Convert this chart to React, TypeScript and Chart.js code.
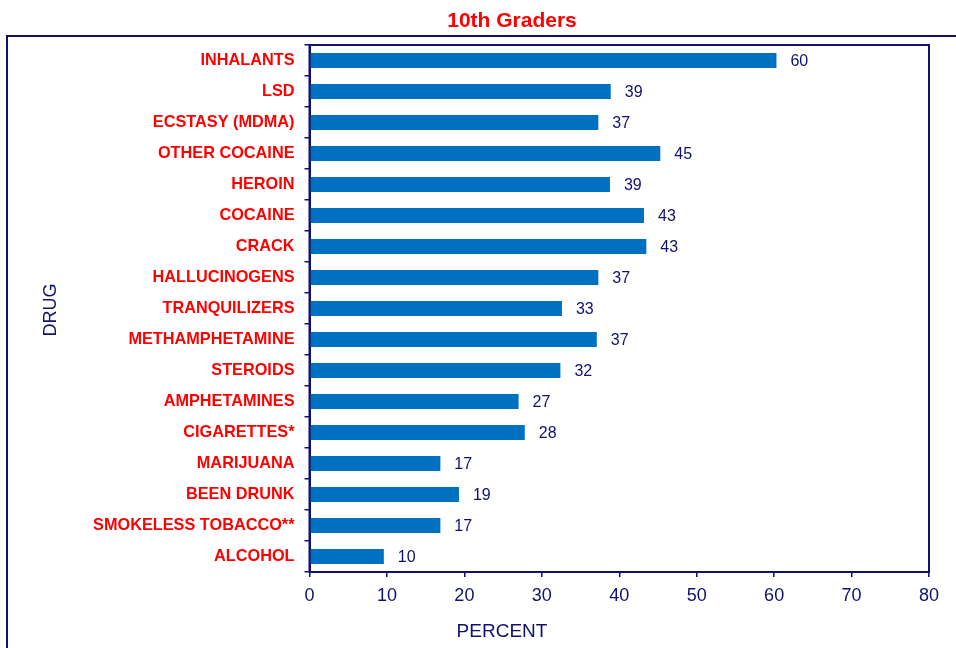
import React, { useEffect, useRef } from "react";
import { Chart, registerables } from "chart.js";

Chart.register(...registerables);

const categories = [
  "INHALANTS",
  "LSD",
  "ECSTASY (MDMA)",
  "OTHER COCAINE",
  "HEROIN",
  "COCAINE",
  "CRACK",
  "HALLUCINOGENS",
  "TRANQUILIZERS",
  "METHAMPHETAMINE",
  "STEROIDS",
  "AMPHETAMINES",
  "CIGARETTES*",
  "MARIJUANA",
  "BEEN DRUNK",
  "SMOKELESS TOBACCO**",
  "ALCOHOL",
];
const percentValues = [60.3, 38.9, 37.3, 45.3, 38.8, 43.2, 43.5, 37.3, 32.6, 37.1, 32.4, 27.0, 27.8, 16.9, 19.3, 16.9, 9.6];
const valueLabels = [60, 39, 37, 45, 39, 43, 43, 37, 33, 37, 32, 27, 28, 17, 19, 17, 10];
const xTicks = [0, 10, 20, 30, 40, 50, 60, 70, 80];
const chartTitle = "10th Graders";
const xTitle = "PERCENT";
const yTitle = "DRUG";

const NAVY = "#10106e";
const RED = "#ff0000";
const BLUE = "#0070c0";
const FONT = "'Liberation Sans', Arial, Helvetica, sans-serif";

export default function App() {
  const ref = useRef<HTMLCanvasElement | null>(null);

  useEffect(() => {
    document.body.style.margin = "0";
    const canvas = ref.current;
    if (!canvas) return;

    const decorPlugin = {
      id: "decor",
      beforeDraw(chart: any) {
        const ctx = chart.ctx;
        ctx.save();
        ctx.fillStyle = "#ffffff";
        ctx.fillRect(0, 0, chart.width, chart.height);
        // outer frame (partially cropped)
        ctx.strokeStyle = NAVY;
        ctx.lineWidth = 2;
        ctx.beginPath();
        ctx.moveTo(chart.width + 5, 36);
        ctx.lineTo(7, 36);
        ctx.lineTo(7, chart.height + 5);
        ctx.stroke();
        ctx.restore();
      },
      afterDatasetsDraw(chart: any) {
        const ctx = chart.ctx;
        const meta = chart.getDatasetMeta(0);
        ctx.save();
        ctx.font = `16px ${FONT}`;
        ctx.fillStyle = NAVY;
        ctx.textAlign = "left";
        ctx.textBaseline = "middle";
        meta.data.forEach((bar: any, i: number) => {
          ctx.fillText(String(valueLabels[i]), bar.x + 14, bar.y + 1);
        });
        ctx.restore();
      },
      afterDraw(chart: any) {
        const ctx = chart.ctx;
        const a = chart.chartArea;
        ctx.save();
        ctx.strokeStyle = NAVY;
        ctx.lineWidth = 2;
        ctx.strokeRect(a.left, a.top, a.right - a.left, a.bottom - a.top);
        // title
        ctx.fillStyle = RED;
        ctx.font = `bold 21px ${FONT}`;
        ctx.textAlign = "center";
        ctx.textBaseline = "alphabetic";
        ctx.fillText(chartTitle, 512, 27);
        // x title
        ctx.fillStyle = NAVY;
        ctx.font = `19px ${FONT}`;
        ctx.fillText(xTitle, 502, 637);
        // y title
        ctx.translate(56, 310);
        ctx.rotate(-Math.PI / 2);
        ctx.font = `18px ${FONT}`;
        ctx.fillText(yTitle, 0, 0);
        ctx.restore();
      },
    };

    const chart = new Chart(canvas, {
      type: "bar",
      data: {
        labels: categories,
        datasets: [
          {
            data: percentValues,
            backgroundColor: BLUE,
            borderWidth: 0,
            barPercentage: 0.484,
            categoryPercentage: 1,
          },
        ],
      },
      options: {
        indexAxis: "y",
        responsive: false,
        animation: false,
        maintainAspectRatio: false,
        layout: { padding: { left: 0, top: 45, right: 27, bottom: 0 } },
        plugins: {
          legend: { display: false },
          title: { display: false },
          tooltip: { enabled: false },
        },
        scales: {
          x: {
            type: "linear",
            min: 0,
            max: 80,
            afterBuildTicks: (scale: any) => {
              scale.ticks = xTicks.map((v) => ({ value: v }));
            },
            afterFit: (scale: any) => {
              scale.height = 76;
            },
            grid: {
              display: true,
              drawOnChartArea: false,
              drawTicks: true,
              tickLength: 5,
              color: NAVY,
              lineWidth: 1.5,
            },
            border: { display: true, color: NAVY, width: 2 },
            ticks: {
              color: NAVY,
              font: { family: FONT, size: 18 },
              padding: 8,
            },
          },
          y: {
            type: "category",
            afterFit: (scale: any) => {
              scale.width = 309.5;
            },
            grid: {
              display: true,
              offset: true,
              drawOnChartArea: false,
              drawTicks: true,
              tickLength: 5,
              color: NAVY,
              lineWidth: 1.5,
            },
            border: { display: true, color: NAVY, width: 2 },
            ticks: {
              color: RED,
              font: { family: FONT, size: 16.3, weight: "bold" },
              padding: 10,
              autoSkip: false,
            },
          },
        },
      },
      plugins: [decorPlugin],
    } as any);

    return () => chart.destroy();
  }, []);

  return (
    <div style={{ width: 956, height: 648 }}>
      <canvas ref={ref} width={956} height={648} style={{ display: "block" }} />
    </div>
  );
}
